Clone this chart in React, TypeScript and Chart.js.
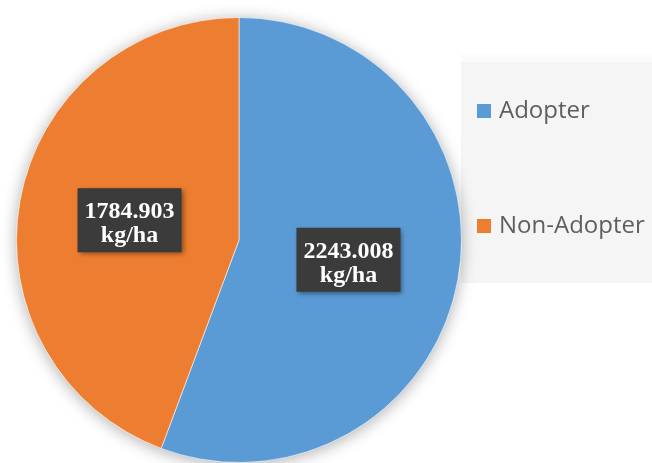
import React, { useEffect, useRef } from "react";
import { Chart, registerables } from "chart.js";

Chart.register(...registerables);

// Yield per hectare by adoption status
const categories: string[] = ["Adopter", "Non-Adopter"];
const yieldValues: number[] = [2243.008, 1784.903];
const valueUnit = "kg/ha";
const sliceColors: string[] = ["#5b9bd5", "#ed7d31"];

const WIDTH = 652;
const HEIGHT = 463;

// Soft drop shadow under the whole pie
const pieShadow = {
  id: "pieShadow",
  beforeDatasetsDraw(chart: any) {
    const meta = chart.getDatasetMeta(0);
    const arc = meta.data[0];
    if (!arc) return;
    const { x, y, outerRadius } = arc.getProps(["x", "y", "outerRadius"], true);
    const ctx = chart.ctx;
    ctx.save();
    ctx.shadowColor = "rgba(0,0,0,0.32)";
    ctx.shadowBlur = 16;
    ctx.shadowOffsetX = 0;
    ctx.shadowOffsetY = 2;
    ctx.fillStyle = "#ffffff";
    ctx.beginPath();
    ctx.arc(x, y, outerRadius, 0, Math.PI * 2);
    ctx.fill();
    ctx.restore();
  },
};

// Light panel behind the legend, drawn before the pie
const legendPanel = {
  id: "legendPanel",
  beforeDraw(chart: any) {
    const ctx = chart.ctx;
    ctx.save();
    ctx.fillStyle = "#f5f5f5";
    ctx.fillRect(461, 54, WIDTH - 461, 283 - 54);
    ctx.fillStyle = "#fbfbfb";
    ctx.fillRect(461, 54, WIDTH - 461, 8);
    ctx.restore();
  },
};

// Value boxes at each slice's centroid
const valueBoxes = {
  id: "valueBoxes",
  afterDatasetsDraw(chart: any) {
    const ctx = chart.ctx;
    const meta = chart.getDatasetMeta(0);
    const values = chart.data.datasets[0].data as number[];
    meta.data.forEach((arc: any, i: number) => {
      const { x, y } = arc.tooltipPosition(true);
      const w = 104;
      const h = 64;
      ctx.save();
      ctx.shadowColor = "rgba(0,0,0,0.45)";
      ctx.shadowBlur = 5;
      ctx.shadowOffsetX = 2;
      ctx.shadowOffsetY = 2;
      ctx.fillStyle = "#3b3b3b";
      ctx.fillRect(x - w / 2, y - h / 2, w, h);
      ctx.restore();

      ctx.save();
      ctx.fillStyle = "#ffffff";
      ctx.font = "bold 24px 'Liberation Serif', 'Times New Roman', serif";
      ctx.textAlign = "center";
      ctx.textBaseline = "alphabetic";
      ctx.fillText(values[i].toFixed(3), x, y - 2);
      ctx.fillText(valueUnit, x, y + 22);
      ctx.restore();
    });
  },
};

// Legend entries on the right
const sideLegend = {
  id: "sideLegend",
  afterDraw(chart: any) {
    const ctx = chart.ctx;
    const labels = chart.data.labels as string[];
    const colors = chart.data.datasets[0].backgroundColor as string[];
    const rowsY = [111, 226];
    ctx.save();
    labels.forEach((label, i) => {
      const cy = rowsY[i];
      ctx.fillStyle = colors[i];
      ctx.fillRect(477, cy - 7, 14, 14);
      ctx.fillStyle = "#5f5f5f";
      ctx.font = "24px 'Open Sans', sans-serif";
      ctx.textAlign = "left";
      ctx.textBaseline = "middle";
      ctx.fillText(label, 499, cy);
    });
    ctx.restore();
  },
};

export default function App() {
  const canvasRef = useRef<HTMLCanvasElement | null>(null);

  useEffect(() => {
    const canvas = canvasRef.current;
    if (!canvas) return;
    const chart = new Chart(canvas, {
      type: "pie",
      data: {
        labels: categories,
        datasets: [
          {
            data: yieldValues,
            backgroundColor: sliceColors,
            borderColor: "rgba(255,255,255,0.55)",
            borderWidth: 1,
          },
        ],
      },
      options: {
        responsive: false,
        animation: false,
        devicePixelRatio: 1,
        layout: { padding: { left: 16, top: 17, right: WIDTH - 462, bottom: 0 } },
        plugins: {
          legend: { display: false },
          tooltip: { enabled: false },
        },
      },
      plugins: [legendPanel, pieShadow, valueBoxes, sideLegend],
    });
    return () => chart.destroy();
  }, []);

  return (
    <div style={{ position: "absolute", left: 0, top: 0, width: WIDTH, height: HEIGHT, background: "#ffffff" }}>
      <canvas ref={canvasRef} width={WIDTH} height={HEIGHT} />
    </div>
  );
}
